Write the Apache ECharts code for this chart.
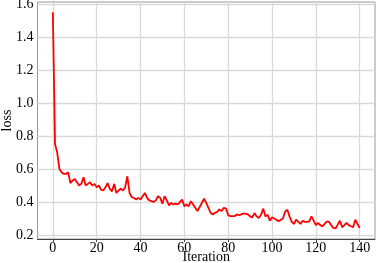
<!DOCTYPE html>
<html><head><meta charset="utf-8">
<script src="https://cdn.jsdelivr.net/npm/echarts@6/dist/echarts.min.js"></script>
<style>html,body{margin:0;padding:0;background:#fff}#c{width:377px;height:263px}</style>
</head><body><div id="c"></div>
<script>
const iterations = Array.from({length: 141}, (_, i) => i);
const loss = [
1.55,0.75,0.70,0.60,0.58,0.57,0.57,0.58,0.515,0.53,
0.54,0.52,0.50,0.51,0.55,0.50,0.51,0.52,0.50,0.51,
0.49,0.50,0.475,0.47,0.49,0.515,0.48,0.465,0.51,0.455,
0.47,0.48,0.47,0.49,0.556,0.455,0.43,0.425,0.415,0.425,
0.415,0.435,0.455,0.425,0.41,0.405,0.40,0.41,0.435,0.425,
0.39,0.435,0.41,0.38,0.395,0.385,0.39,0.385,0.40,0.415,
0.375,0.385,0.375,0.405,0.385,0.365,0.345,0.37,0.395,0.42,
0.395,0.365,0.335,0.325,0.335,0.34,0.355,0.345,0.365,0.36,
0.32,0.315,0.315,0.315,0.325,0.32,0.325,0.33,0.33,0.325,
0.313,0.307,0.333,0.313,0.303,0.323,0.36,0.313,0.323,0.287,
0.307,0.30,0.293,0.283,0.293,0.30,0.343,0.353,0.313,0.28,
0.267,0.293,0.28,0.267,0.287,0.28,0.28,0.283,0.313,0.287,
0.26,0.273,0.26,0.253,0.267,0.283,0.28,0.26,0.243,0.24,
0.263,0.287,0.247,0.26,0.273,0.26,0.253,0.247,0.293,0.267,
0.243];
const xTicks = [0,20,40,60,80,100,120,140];
const yTicks = [0.2,0.4,0.6,0.8,1.0,1.2,1.4,1.6];

const font = 'Liberation Serif';
const chart = echarts.init(document.getElementById('c'));
chart.setOption({
  animation: false,
  grid: {left: 37.5, right: 2, top: 2, bottom: 24, show: true, borderColor: '#999', borderWidth: 1,
    containLabel: false, outerBoundsMode: 'none'},
  xAxis: {
    type: 'value', min: -7, max: 147,
    name: 'Iteration', nameLocation: 'middle', nameGap: 11, nameMoveOverlap: false,
    nameTextStyle: {fontFamily: font, fontSize: 14, color: '#000'},
    axisLine: {show: true, onZero: false, lineStyle: {color: '#444', width: 1}},
    axisTick: {show: true, length: 3, customValues: xTicks, lineStyle: {color: '#444'}},
    axisLabel: {customValues: xTicks, fontFamily: font, fontSize: 14, color: '#000', margin: 2,
      formatter: v => String(v)},
    splitLine: {show: false}
  },
  yAxis: {
    type: 'value', min: 0.176, max: 1.612,
    name: 'loss', nameLocation: 'middle', nameGap: 23, nameRotate: 90, nameMoveOverlap: false,
    nameTextStyle: {fontFamily: font, fontSize: 14, color: '#000'},
    axisLine: {show: true, lineStyle: {color: '#444', width: 1}},
    axisTick: {show: true, length: 3, customValues: yTicks, lineStyle: {color: '#444'}},
    axisLabel: {customValues: yTicks, fontFamily: font, fontSize: 14, color: '#000', margin: 4,
      formatter: v => v.toFixed(1)},
    splitLine: {show: false}
  },
  series: [{
    type: 'line', data: iterations.map((x, i) => [x, loss[i]]),
    showSymbol: false, lineStyle: {color: '#ff0000', width: 1.8}, z: 5,
    markLine: {
      silent: true, symbol: 'none', label: {show: false},
      lineStyle: {color: '#d9d9d9', width: 1.3, type: 'solid'},
      z: 1,
      data: xTicks.map(v => ({xAxis: v})).concat(yTicks.map(v => ({yAxis: v})))
    }
  }]
});
</script></body></html>
